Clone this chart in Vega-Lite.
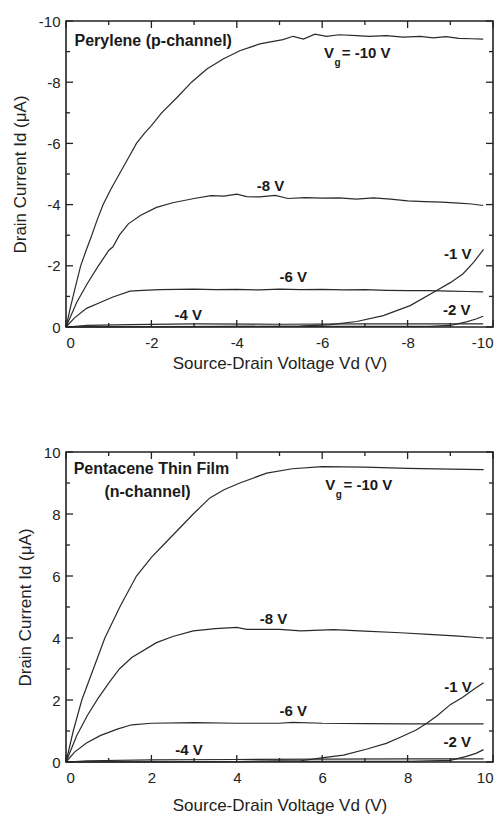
{
  "$schema": "https://vega.github.io/schema/vega-lite/v6.json",
  "background": "white",
  "padding": {"left": 10, "top": 13, "right": 0, "bottom": 0},
  "spacing": 72,
  "config": {
    "font": "Liberation Sans",
    "view": {"stroke": "#222", "strokeWidth": 1.6},
    "axis": {
      "domain": false,
      "grid": false,
      "ticks": false,
      "labelColor": "#222",
      "labelFontSize": 15,
      "titleFontSize": 17,
      "titleFontWeight": "normal",
      "titleColor": "#222"
    },
    "rule": {"color": "#222", "strokeWidth": 1.3},
    "text": {"font": "Liberation Sans"}
  },
  "datasets": {
    "top": [
      {"vg": "-10", "vd": 0, "id": 0}, {"vg": "-10", "vd": -0.1, "id": -0.62}, {"vg": "-10", "vd": -0.2, "id": -1.2}, {"vg": "-10", "vd": -0.34, "id": -1.98}, {"vg": "-10", "vd": -0.47, "id": -2.5}, {"vg": "-10", "vd": -0.6, "id": -2.98}, {"vg": "-10", "vd": -0.73, "id": -3.5}, {"vg": "-10", "vd": -0.87, "id": -4.0}, {"vg": "-10", "vd": -1.05, "id": -4.5}, {"vg": "-10", "vd": -1.25, "id": -5.0}, {"vg": "-10", "vd": -1.45, "id": -5.5}, {"vg": "-10", "vd": -1.65, "id": -6.0}, {"vg": "-10", "vd": -1.85, "id": -6.35}, {"vg": "-10", "vd": -2.0, "id": -6.58}, {"vg": "-10", "vd": -2.24, "id": -7.0}, {"vg": "-10", "vd": -2.6, "id": -7.5}, {"vg": "-10", "vd": -2.94, "id": -8.0}, {"vg": "-10", "vd": -3.3, "id": -8.43}, {"vg": "-10", "vd": -3.68, "id": -8.76}, {"vg": "-10", "vd": -4.07, "id": -9.03}, {"vg": "-10", "vd": -4.54, "id": -9.25}, {"vg": "-10", "vd": -5.08, "id": -9.39}, {"vg": "-10", "vd": -5.32, "id": -9.5}, {"vg": "-10", "vd": -5.56, "id": -9.41}, {"vg": "-10", "vd": -5.83, "id": -9.57}, {"vg": "-10", "vd": -6.1, "id": -9.5}, {"vg": "-10", "vd": -6.4, "id": -9.55}, {"vg": "-10", "vd": -6.8, "id": -9.52}, {"vg": "-10", "vd": -7.1, "id": -9.5}, {"vg": "-10", "vd": -7.5, "id": -9.52}, {"vg": "-10", "vd": -7.9, "id": -9.47}, {"vg": "-10", "vd": -8.3, "id": -9.5}, {"vg": "-10", "vd": -8.6, "id": -9.45}, {"vg": "-10", "vd": -8.9, "id": -9.49}, {"vg": "-10", "vd": -9.2, "id": -9.43}, {"vg": "-10", "vd": -9.5, "id": -9.42}, {"vg": "-10", "vd": -9.77, "id": -9.41},
      {"vg": "-8", "vd": 0, "id": 0}, {"vg": "-8", "vd": -0.25, "id": -0.8}, {"vg": "-8", "vd": -0.5, "id": -1.42}, {"vg": "-8", "vd": -0.75, "id": -1.98}, {"vg": "-8", "vd": -1.0, "id": -2.5}, {"vg": "-8", "vd": -1.1, "id": -2.62}, {"vg": "-8", "vd": -1.25, "id": -3.0}, {"vg": "-8", "vd": -1.46, "id": -3.37}, {"vg": "-8", "vd": -1.75, "id": -3.65}, {"vg": "-8", "vd": -2.12, "id": -3.91}, {"vg": "-8", "vd": -2.5, "id": -4.06}, {"vg": "-8", "vd": -3.0, "id": -4.2}, {"vg": "-8", "vd": -3.4, "id": -4.29}, {"vg": "-8", "vd": -3.7, "id": -4.28}, {"vg": "-8", "vd": -4.0, "id": -4.34}, {"vg": "-8", "vd": -4.23, "id": -4.26}, {"vg": "-8", "vd": -4.54, "id": -4.25}, {"vg": "-8", "vd": -4.9, "id": -4.3}, {"vg": "-8", "vd": -5.2, "id": -4.2}, {"vg": "-8", "vd": -5.6, "id": -4.23}, {"vg": "-8", "vd": -6.0, "id": -4.21}, {"vg": "-8", "vd": -6.4, "id": -4.22}, {"vg": "-8", "vd": -6.8, "id": -4.18}, {"vg": "-8", "vd": -7.2, "id": -4.22}, {"vg": "-8", "vd": -7.6, "id": -4.18}, {"vg": "-8", "vd": -8.0, "id": -4.12}, {"vg": "-8", "vd": -8.4, "id": -4.1}, {"vg": "-8", "vd": -8.8, "id": -4.08}, {"vg": "-8", "vd": -9.2, "id": -4.05}, {"vg": "-8", "vd": -9.5, "id": -4.02}, {"vg": "-8", "vd": -9.77, "id": -3.97},
      {"vg": "-6", "vd": 0, "id": 0}, {"vg": "-6", "vd": -0.2, "id": -0.3}, {"vg": "-6", "vd": -0.48, "id": -0.61}, {"vg": "-6", "vd": -0.8, "id": -0.8}, {"vg": "-6", "vd": -1.1, "id": -0.98}, {"vg": "-6", "vd": -1.5, "id": -1.17}, {"vg": "-6", "vd": -1.8, "id": -1.2}, {"vg": "-6", "vd": -2.2, "id": -1.22}, {"vg": "-6", "vd": -3.0, "id": -1.24}, {"vg": "-6", "vd": -3.5, "id": -1.22}, {"vg": "-6", "vd": -4.0, "id": -1.23}, {"vg": "-6", "vd": -4.54, "id": -1.21}, {"vg": "-6", "vd": -5.0, "id": -1.24}, {"vg": "-6", "vd": -5.5, "id": -1.22}, {"vg": "-6", "vd": -6.0, "id": -1.23}, {"vg": "-6", "vd": -6.5, "id": -1.21}, {"vg": "-6", "vd": -7.0, "id": -1.22}, {"vg": "-6", "vd": -7.5, "id": -1.2}, {"vg": "-6", "vd": -8.0, "id": -1.19}, {"vg": "-6", "vd": -8.5, "id": -1.19}, {"vg": "-6", "vd": -9.0, "id": -1.17}, {"vg": "-6", "vd": -9.4, "id": -1.16}, {"vg": "-6", "vd": -9.77, "id": -1.15},
      {"vg": "-4", "vd": 0, "id": 0}, {"vg": "-4", "vd": -0.5, "id": -0.05}, {"vg": "-4", "vd": -1.5, "id": -0.08}, {"vg": "-4", "vd": -3.0, "id": -0.1}, {"vg": "-4", "vd": -5.0, "id": -0.09}, {"vg": "-4", "vd": -7.0, "id": -0.1}, {"vg": "-4", "vd": -9.77, "id": -0.1},
      {"vg": "-2", "vd": 0, "id": 0}, {"vg": "-2", "vd": -2.0, "id": -0.01}, {"vg": "-2", "vd": -5.0, "id": -0.02}, {"vg": "-2", "vd": -7.0, "id": -0.02}, {"vg": "-2", "vd": -8.5, "id": -0.02}, {"vg": "-2", "vd": -9.0, "id": -0.05}, {"vg": "-2", "vd": -9.38, "id": -0.17}, {"vg": "-2", "vd": -9.6, "id": -0.26}, {"vg": "-2", "vd": -9.77, "id": -0.35},
      {"vg": "-1", "vd": 0, "id": 0}, {"vg": "-1", "vd": -3.0, "id": -0.01}, {"vg": "-1", "vd": -5.0, "id": -0.02}, {"vg": "-1", "vd": -5.48, "id": -0.03}, {"vg": "-1", "vd": -6.18, "id": -0.08}, {"vg": "-1", "vd": -6.81, "id": -0.18}, {"vg": "-1", "vd": -7.43, "id": -0.37}, {"vg": "-1", "vd": -8.06, "id": -0.7}, {"vg": "-1", "vd": -8.68, "id": -1.19}, {"vg": "-1", "vd": -9.0, "id": -1.45}, {"vg": "-1", "vd": -9.3, "id": -1.74}, {"vg": "-1", "vd": -9.55, "id": -2.12}, {"vg": "-1", "vd": -9.78, "id": -2.54}
    ],
    "bottom": [
      {"vg": "-10", "vd": 0, "id": 0}, {"vg": "-10", "vd": 0.17, "id": 1.0}, {"vg": "-10", "vd": 0.37, "id": 2.0}, {"vg": "-10", "vd": 0.64, "id": 3.0}, {"vg": "-10", "vd": 0.91, "id": 4.0}, {"vg": "-10", "vd": 1.26, "id": 5.0}, {"vg": "-10", "vd": 1.65, "id": 6.0}, {"vg": "-10", "vd": 2.0, "id": 6.6}, {"vg": "-10", "vd": 2.28, "id": 7.0}, {"vg": "-10", "vd": 2.98, "id": 8.0}, {"vg": "-10", "vd": 3.37, "id": 8.52}, {"vg": "-10", "vd": 3.7, "id": 8.78}, {"vg": "-10", "vd": 4.07, "id": 9.0}, {"vg": "-10", "vd": 4.7, "id": 9.32}, {"vg": "-10", "vd": 5.3, "id": 9.46}, {"vg": "-10", "vd": 6.0, "id": 9.53}, {"vg": "-10", "vd": 7.0, "id": 9.51}, {"vg": "-10", "vd": 8.0, "id": 9.47}, {"vg": "-10", "vd": 9.0, "id": 9.45}, {"vg": "-10", "vd": 9.78, "id": 9.43},
      {"vg": "-8", "vd": 0, "id": 0}, {"vg": "-8", "vd": 0.25, "id": 0.85}, {"vg": "-8", "vd": 0.5, "id": 1.5}, {"vg": "-8", "vd": 0.75, "id": 2.05}, {"vg": "-8", "vd": 1.03, "id": 2.6}, {"vg": "-8", "vd": 1.25, "id": 3.0}, {"vg": "-8", "vd": 1.54, "id": 3.37}, {"vg": "-8", "vd": 2.12, "id": 3.85}, {"vg": "-8", "vd": 2.5, "id": 4.05}, {"vg": "-8", "vd": 2.98, "id": 4.23}, {"vg": "-8", "vd": 3.5, "id": 4.3}, {"vg": "-8", "vd": 4.0, "id": 4.34}, {"vg": "-8", "vd": 4.23, "id": 4.28}, {"vg": "-8", "vd": 5.0, "id": 4.28}, {"vg": "-8", "vd": 5.5, "id": 4.23}, {"vg": "-8", "vd": 6.27, "id": 4.27}, {"vg": "-8", "vd": 7.0, "id": 4.22}, {"vg": "-8", "vd": 7.83, "id": 4.17}, {"vg": "-8", "vd": 8.5, "id": 4.12}, {"vg": "-8", "vd": 9.2, "id": 4.06}, {"vg": "-8", "vd": 9.78, "id": 4.0},
      {"vg": "-6", "vd": 0, "id": 0}, {"vg": "-6", "vd": 0.2, "id": 0.32}, {"vg": "-6", "vd": 0.48, "id": 0.61}, {"vg": "-6", "vd": 0.8, "id": 0.85}, {"vg": "-6", "vd": 1.2, "id": 1.06}, {"vg": "-6", "vd": 1.54, "id": 1.2}, {"vg": "-6", "vd": 2.0, "id": 1.25}, {"vg": "-6", "vd": 3.0, "id": 1.27}, {"vg": "-6", "vd": 4.0, "id": 1.25}, {"vg": "-6", "vd": 5.0, "id": 1.25}, {"vg": "-6", "vd": 5.3, "id": 1.28}, {"vg": "-6", "vd": 6.0, "id": 1.25}, {"vg": "-6", "vd": 7.0, "id": 1.24}, {"vg": "-6", "vd": 8.0, "id": 1.23}, {"vg": "-6", "vd": 9.0, "id": 1.23}, {"vg": "-6", "vd": 9.78, "id": 1.23},
      {"vg": "-4", "vd": 0, "id": 0}, {"vg": "-4", "vd": 0.5, "id": 0.04}, {"vg": "-4", "vd": 2.0, "id": 0.07}, {"vg": "-4", "vd": 4.0, "id": 0.08}, {"vg": "-4", "vd": 6.0, "id": 0.09}, {"vg": "-4", "vd": 8.0, "id": 0.1}, {"vg": "-4", "vd": 9.78, "id": 0.1},
      {"vg": "-2", "vd": 0, "id": 0}, {"vg": "-2", "vd": 4.0, "id": 0.01}, {"vg": "-2", "vd": 5.0, "id": 0.03}, {"vg": "-2", "vd": 6.0, "id": 0.02}, {"vg": "-2", "vd": 8.0, "id": 0.02}, {"vg": "-2", "vd": 9.0, "id": 0.05}, {"vg": "-2", "vd": 9.38, "id": 0.18}, {"vg": "-2", "vd": 9.6, "id": 0.28}, {"vg": "-2", "vd": 9.78, "id": 0.4},
      {"vg": "-1", "vd": 0, "id": 0}, {"vg": "-1", "vd": 4.0, "id": 0.01}, {"vg": "-1", "vd": 5.5, "id": 0.04}, {"vg": "-1", "vd": 6.03, "id": 0.14}, {"vg": "-1", "vd": 6.5, "id": 0.22}, {"vg": "-1", "vd": 7.05, "id": 0.42}, {"vg": "-1", "vd": 7.5, "id": 0.6}, {"vg": "-1", "vd": 7.83, "id": 0.8}, {"vg": "-1", "vd": 8.2, "id": 1.03}, {"vg": "-1", "vd": 8.45, "id": 1.25}, {"vg": "-1", "vd": 8.7, "id": 1.5}, {"vg": "-1", "vd": 9.0, "id": 1.85}, {"vg": "-1", "vd": 9.3, "id": 2.1}, {"vg": "-1", "vd": 9.55, "id": 2.35}, {"vg": "-1", "vd": 9.78, "id": 2.56}
    ],
    "topLabels": [
      {"t": "V", "x": -6.04, "y": -8.94},
      {"t": "= -10 V", "x": -6.46, "y": -8.94},
      {"t": "-8 V", "x": -4.47, "y": -4.62},
      {"t": "-6 V", "x": -5.0, "y": -1.63},
      {"t": "-4 V", "x": -2.54, "y": -0.38},
      {"t": "-1 V", "x": -8.85, "y": -2.39},
      {"t": "-2 V", "x": -8.83, "y": -0.57}
    ],
    "topTitle": [{"t": "Perylene (p-channel)", "x": -0.2, "y": -9.34}],
    "topSub": [{"t": "g", "x": -6.29, "y": -8.64}],
    "bottomLabels": [
      {"t": "V", "x": 6.07, "y": 8.92},
      {"t": "= -10 V", "x": 6.5, "y": 8.92},
      {"t": "-8 V", "x": 4.54, "y": 4.62},
      {"t": "-6 V", "x": 5.0, "y": 1.66},
      {"t": "-4 V", "x": 2.56, "y": 0.39},
      {"t": "-1 V", "x": 8.86, "y": 2.43},
      {"t": "-2 V", "x": 8.84, "y": 0.64}
    ],
    "bottomTitle": [
      {"t": "Pentacene Thin Film", "x": 0.18, "y": 9.46},
      {"t": "(n-channel)", "x": 0.9, "y": 8.7}
    ],
    "bottomSub": [{"t": "g", "x": 6.32, "y": 8.62}],
    "negMajor": [{"v": 0}, {"v": -2}, {"v": -4}, {"v": -6}, {"v": -8}, {"v": -10}],
    "negMinor": [{"v": -1}, {"v": -3}, {"v": -5}, {"v": -7}, {"v": -9}],
    "posMajor": [{"v": 0}, {"v": 2}, {"v": 4}, {"v": 6}, {"v": 8}, {"v": 10}],
    "posMinor": [{"v": 1}, {"v": 3}, {"v": 5}, {"v": 7}, {"v": 9}]
  },
  "vconcat": [
    {
      "width": 427,
      "height": 306,
      "layer": [
        {
          "data": {"name": "top"},
          "mark": {"type": "line", "color": "#2a2a2a", "strokeWidth": 1.2},
          "encoding": {
            "x": {"field": "vd", "type": "quantitative", "scale": {"domain": [-10, 0], "reverse": true, "nice": false},
              "axis": {"orient": "bottom", "title": "Source-Drain Voltage Vd (V)", "values": [0, -2, -4, -6, -8, -10],
                "labelExpr": "'' + datum.value", "labelPadding": 8, "titlePadding": 5}},
            "y": {"field": "id", "type": "quantitative", "scale": {"domain": [-10, 0], "reverse": true, "nice": false},
              "axis": {"orient": "left", "title": "Drain Current Id (μA)", "values": [0, -2, -4, -6, -8, -10],
                "labelExpr": "'' + datum.value", "labelPadding": 6, "titlePadding": 9}},
            "detail": {"field": "vg"}
          }
        },
        {"data": {"name": "negMajor"}, "mark": {"type": "rule", "y2Offset": -7},
          "encoding": {"x": {"field": "v", "type": "quantitative", "axis": null}, "y": {"datum": 0, "axis": null}, "y2": {"datum": 0}}},
        {"data": {"name": "negMinor"}, "mark": {"type": "rule", "y2Offset": -4},
          "encoding": {"x": {"field": "v", "type": "quantitative", "axis": null}, "y": {"datum": 0, "axis": null}, "y2": {"datum": 0}}},
        {"data": {"name": "negMajor"}, "mark": {"type": "rule", "y2Offset": 7},
          "encoding": {"x": {"field": "v", "type": "quantitative", "axis": null}, "y": {"datum": -10, "axis": null}, "y2": {"datum": -10}}},
        {"data": {"name": "negMinor"}, "mark": {"type": "rule", "y2Offset": 4},
          "encoding": {"x": {"field": "v", "type": "quantitative", "axis": null}, "y": {"datum": -10, "axis": null}, "y2": {"datum": -10}}},
        {"data": {"name": "negMajor"}, "mark": {"type": "rule", "x2Offset": 7},
          "encoding": {"y": {"field": "v", "type": "quantitative", "axis": null}, "x": {"datum": 0, "axis": null}, "x2": {"datum": 0}}},
        {"data": {"name": "negMinor"}, "mark": {"type": "rule", "x2Offset": 4},
          "encoding": {"y": {"field": "v", "type": "quantitative", "axis": null}, "x": {"datum": 0, "axis": null}, "x2": {"datum": 0}}},
        {"data": {"name": "negMajor"}, "mark": {"type": "rule", "x2Offset": -7},
          "encoding": {"y": {"field": "v", "type": "quantitative", "axis": null}, "x": {"datum": -10, "axis": null}, "x2": {"datum": -10}}},
        {"data": {"name": "negMinor"}, "mark": {"type": "rule", "x2Offset": -4},
          "encoding": {"y": {"field": "v", "type": "quantitative", "axis": null}, "x": {"datum": -10, "axis": null}, "x2": {"datum": -10}}},
        {
          "data": {"name": "topLabels"},
          "mark": {"type": "text", "align": "left", "baseline": "middle", "fontWeight": "bold", "fontSize": 15, "color": "#1a1a1a"},
          "encoding": {
            "x": {"field": "x", "type": "quantitative", "axis": null},
            "y": {"field": "y", "type": "quantitative", "axis": null},
            "text": {"field": "t"}
          }
        },
        {
          "data": {"name": "topTitle"},
          "mark": {"type": "text", "align": "left", "baseline": "middle", "fontWeight": "bold", "fontSize": 16, "color": "#1a1a1a"},
          "encoding": {
            "x": {"field": "x", "type": "quantitative", "axis": null},
            "y": {"field": "y", "type": "quantitative", "axis": null},
            "text": {"field": "t"}
          }
        },
        {
          "data": {"name": "topSub"},
          "mark": {"type": "text", "align": "left", "baseline": "middle", "fontWeight": "bold", "fontSize": 10, "color": "#1a1a1a"},
          "encoding": {
            "x": {"field": "x", "type": "quantitative", "axis": null},
            "y": {"field": "y", "type": "quantitative", "axis": null},
            "text": {"field": "t"}
          }
        }
      ],
      "resolve": {"axis": {"x": "independent", "y": "independent"}}
    },
    {
      "width": 427,
      "height": 310,
      "layer": [
        {
          "data": {"name": "bottom"},
          "mark": {"type": "line", "color": "#2a2a2a", "strokeWidth": 1.2},
          "encoding": {
            "x": {"field": "vd", "type": "quantitative", "scale": {"domain": [0, 10], "nice": false},
              "axis": {"orient": "bottom", "title": "Source-Drain Voltage Vd (V)", "values": [0, 2, 4, 6, 8, 10],
                "labelExpr": "'' + datum.value", "labelPadding": 8, "titlePadding": 12}},
            "y": {"field": "id", "type": "quantitative", "scale": {"domain": [0, 10], "nice": false},
              "axis": {"orient": "left", "title": "Drain Current Id (μA)", "values": [0, 2, 4, 6, 8, 10],
                "labelExpr": "'' + datum.value", "labelPadding": 6, "titlePadding": 9}},
            "detail": {"field": "vg"}
          }
        },
        {"data": {"name": "posMajor"}, "mark": {"type": "rule", "y2Offset": -7},
          "encoding": {"x": {"field": "v", "type": "quantitative", "axis": null}, "y": {"datum": 0, "axis": null}, "y2": {"datum": 0}}},
        {"data": {"name": "posMinor"}, "mark": {"type": "rule", "y2Offset": -4},
          "encoding": {"x": {"field": "v", "type": "quantitative", "axis": null}, "y": {"datum": 0, "axis": null}, "y2": {"datum": 0}}},
        {"data": {"name": "posMajor"}, "mark": {"type": "rule", "y2Offset": 7},
          "encoding": {"x": {"field": "v", "type": "quantitative", "axis": null}, "y": {"datum": 10, "axis": null}, "y2": {"datum": 10}}},
        {"data": {"name": "posMinor"}, "mark": {"type": "rule", "y2Offset": 4},
          "encoding": {"x": {"field": "v", "type": "quantitative", "axis": null}, "y": {"datum": 10, "axis": null}, "y2": {"datum": 10}}},
        {"data": {"name": "posMajor"}, "mark": {"type": "rule", "x2Offset": 7},
          "encoding": {"y": {"field": "v", "type": "quantitative", "axis": null}, "x": {"datum": 0, "axis": null}, "x2": {"datum": 0}}},
        {"data": {"name": "posMinor"}, "mark": {"type": "rule", "x2Offset": 4},
          "encoding": {"y": {"field": "v", "type": "quantitative", "axis": null}, "x": {"datum": 0, "axis": null}, "x2": {"datum": 0}}},
        {"data": {"name": "posMajor"}, "mark": {"type": "rule", "x2Offset": -7},
          "encoding": {"y": {"field": "v", "type": "quantitative", "axis": null}, "x": {"datum": 10, "axis": null}, "x2": {"datum": 10}}},
        {"data": {"name": "posMinor"}, "mark": {"type": "rule", "x2Offset": -4},
          "encoding": {"y": {"field": "v", "type": "quantitative", "axis": null}, "x": {"datum": 10, "axis": null}, "x2": {"datum": 10}}},
        {
          "data": {"name": "bottomLabels"},
          "mark": {"type": "text", "align": "left", "baseline": "middle", "fontWeight": "bold", "fontSize": 15, "color": "#1a1a1a"},
          "encoding": {
            "x": {"field": "x", "type": "quantitative", "axis": null},
            "y": {"field": "y", "type": "quantitative", "axis": null},
            "text": {"field": "t"}
          }
        },
        {
          "data": {"name": "bottomTitle"},
          "mark": {"type": "text", "align": "left", "baseline": "middle", "fontWeight": "bold", "fontSize": 16, "color": "#1a1a1a"},
          "encoding": {
            "x": {"field": "x", "type": "quantitative", "axis": null},
            "y": {"field": "y", "type": "quantitative", "axis": null},
            "text": {"field": "t"}
          }
        },
        {
          "data": {"name": "bottomSub"},
          "mark": {"type": "text", "align": "left", "baseline": "middle", "fontWeight": "bold", "fontSize": 10, "color": "#1a1a1a"},
          "encoding": {
            "x": {"field": "x", "type": "quantitative", "axis": null},
            "y": {"field": "y", "type": "quantitative", "axis": null},
            "text": {"field": "t"}
          }
        }
      ],
      "resolve": {"axis": {"x": "independent", "y": "independent"}}
    }
  ]
}
